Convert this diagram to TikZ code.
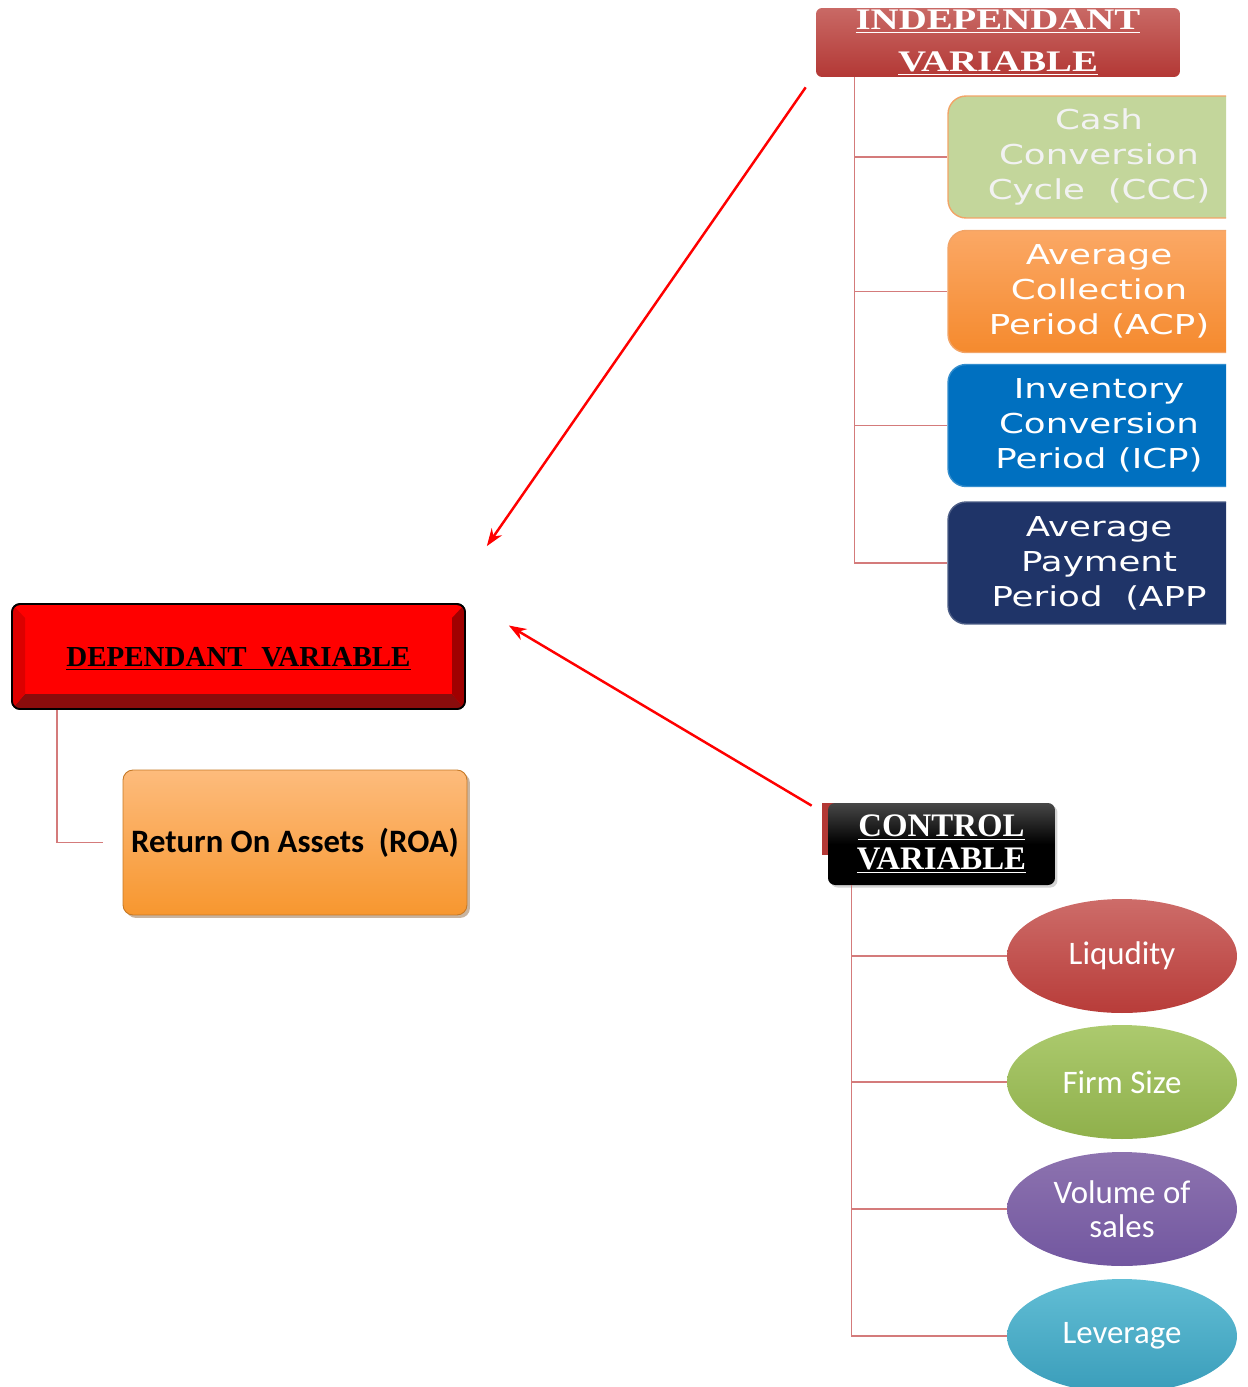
\documentclass[tikz,border=0pt]{standalone}
\usepackage{fontspec}
\setmainfont{Liberation Serif}
\newfontfamily\dvw[FakeStretch=1.3]{DejaVu Sans}
\newfontfamily\serw[FakeStretch=1.3]{Liberation Serif}
\newfontfamily\carl{Carlito}
\usetikzlibrary{calc,shadows,shapes.geometric,arrows.meta}
\definecolor{treec}{HTML}{D47B7B}
\definecolor{hdrtop}{HTML}{C96965}
\definecolor{hdrbot}{HTML}{B33835}
\definecolor{cccfill}{HTML}{C3D69B}
\definecolor{cccedge}{HTML}{F2A467}
\definecolor{acptop}{HTML}{FBA865}
\definecolor{acpbot}{HTML}{F58A2E}
\definecolor{icpfill}{HTML}{0070C0}
\definecolor{appfill}{HTML}{1F3468}
\definecolor{roatop}{HTML}{FDBB7C}
\definecolor{roabot}{HTML}{F7972F}
\definecolor{liqtop}{HTML}{CD6C69}
\definecolor{liqbot}{HTML}{B83C39}
\definecolor{firtop}{HTML}{ACCA6E}
\definecolor{firbot}{HTML}{8FB04B}
\definecolor{voltop}{HTML}{8D73AF}
\definecolor{volbot}{HTML}{7257A0}
\definecolor{levtop}{HTML}{62BED5}
\definecolor{levbot}{HTML}{3A9DBA}
\definecolor{depdark}{HTML}{8A0C0C}
\definecolor{depright}{HTML}{A00000}
\definecolor{depleft}{HTML}{DC0000}
\begin{document}
\begin{tikzpicture}[x=0.02cm,y=-0.02cm,
  hdr/.style={rectangle, rounded corners=0.12cm, text=white, align=center, inner sep=0pt},
  vbox/.style={rectangle, rounded corners=0.36cm, minimum width=6.04cm, minimum height=2.44cm,
    text=white, align=center, inner sep=0pt, line width=0.8pt,
    font=\dvw\fontsize{15.6pt}{19.9pt}\selectfont},
  ell/.style={ellipse, minimum width=4.6cm, minimum height=2.28cm, text=white, align=center,
    inner sep=0pt, font=\carl\fontsize{18.7pt}{19.3pt}\selectfont},
  tree/.style={draw=treec, line width=0.8pt},
  arr/.style={draw=red, line width=1.4pt, -{Stealth[length=0.35cm,width=0.25cm]}}]
\useasboundingbox (0,0) rectangle (1248,1387);

% ---------- independent variable ----------
\node[hdr, top color=hdrtop, bottom color=hdrbot, minimum width=7.28cm, minimum height=1.38cm,
  font=\serw\bfseries\fontsize{17pt}{23.8pt}\selectfont] (indep) at (998,42.5)
  {\underline{INDEPENDANT}\\\underline{VARIABLE}};

\begin{scope}
\clip (0,0) rectangle (1226,1387);
\node[vbox, fill=cccfill, draw=cccedge, text=white!95!black] (ccc) at (1099,157)
  {Cash\\Conversion\\Cycle\ \ (CCC)};
\node[vbox, top color=acptop, bottom color=acpbot, draw=cccedge] (acp) at (1099,291.5)
  {Average\\Collection\\Period (ACP)};
\node[vbox, fill=icpfill, draw=icpfill!80!white] (icp) at (1099,425.5)
  {Inventory\\Conversion\\Period (ICP)};
\node[vbox, fill=appfill, draw=appfill!80!white] (app) at (1099,563)
  {Average\\Payment\\Period\ \ (APP};
\end{scope}

\coordinate (it) at ($(indep.south west)+(39,0)$);
\draw[tree] (it) |- (app.west);
\foreach \n in {ccc,acp,icp} \draw[tree] (it |- \n.west) -- (\n.west);

% ---------- dependent variable ----------
\node[rectangle, rounded corners=0.16cm, fill=red, draw=black, line width=1pt,
  minimum width=9.06cm, minimum height=2.1cm, inner sep=0pt] (dep) at (238.5,656.5) {};
\begin{scope}
\clip[rounded corners=0.16cm] (12,604) rectangle (465,709);
\fill[depdark] (12,709) -- (465,709) -- (452,694) -- (25,694) -- cycle;
\fill[depright] (465,604) -- (465,709) -- (452,694) -- (452,618) -- cycle;
\fill[depleft] (12,604) -- (25,618) -- (25,694) -- (12,709) -- cycle;
\end{scope}
\draw[black, line width=1pt, rounded corners=0.16cm] (12,604) rectangle (465,709);
\node[font=\bfseries\fontsize{16.5pt}{20pt}\selectfont, text=black] (deptext) at (238.5,659)
  {\underline{DEPENDANT\ \ VARIABLE}};

\node[rectangle, rounded corners=0.2cm, top color=roatop, bottom color=roabot, draw=roabot!80!black,
  line width=0.5pt, minimum width=6.88cm, minimum height=2.9cm, inner sep=0pt,
  drop shadow={shadow xshift=0.06cm, shadow yshift=-0.06cm, opacity=0.45, fill=brown!70!black},
  font=\carl\bfseries\fontsize{18.6pt}{20pt}\selectfont] (roa) at (295,842.5)
  {\raisebox{-2pt}{Return On Assets\ \ (ROA)}};

\coordinate (dt) at ($(dep.south west)+(46,0)$);
\draw[tree] (dt) |- ($(roa.west)+(-20,0)$);

% ---------- control variable ----------
\fill[hdrbot] (822,803) rectangle (836,855);
\node[hdr, rounded corners=0.14cm, top color=black!72, bottom color=black, middle color=black,
  minimum width=4.54cm, minimum height=1.64cm,
  drop shadow={shadow xshift=0.05cm, shadow yshift=-0.05cm, opacity=0.35},
  font=\bfseries\fontsize{18.7pt}{18.4pt}\selectfont] (ctrl) at (941.5,844)
  {\underline{CONTROL}\\\underline{VARIABLE}};

\node[ell, top color=liqtop, bottom color=liqbot] (liq) at (1122,956) {Liqudity};
\node[ell, top color=firtop, bottom color=firbot] (firm) at (1122,1082) {Firm Size};
\node[ell, top color=voltop, bottom color=volbot] (vol) at (1122,1209) {Volume of\\sales};
\node[ell, top color=levtop, bottom color=levbot] (lev) at (1122,1336) {Leverage};

\coordinate (ct) at ($(ctrl.south west)+(24,0)$);
\draw[tree] (ct) |- (lev.west);
\foreach \n in {liq,firm,vol} \draw[tree] (ct |- \n.west) -- (\n.west);

% ---------- arrows ----------
\draw[arr] ($(indep.south west)+(-10,10)$) -- ($(dep.north east)+(21,-57)$);
\draw[arr] ($(ctrl.north west)+(-16,3)$) -- ($(dep.east)+(43,-31)$);
\end{tikzpicture}
\end{document}
